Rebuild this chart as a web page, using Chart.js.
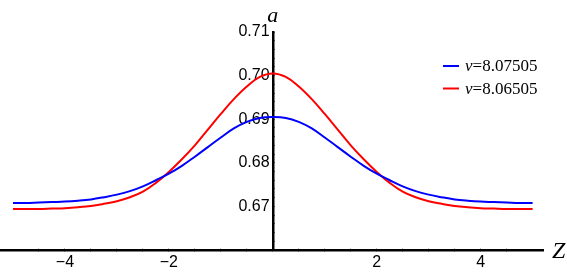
<!DOCTYPE html>
<html>
<head>
<meta charset="utf-8">
<script src="https://cdn.jsdelivr.net/npm/chart.js@4.4.0/dist/chart.umd.min.js"></script>
<style>
  body { margin: 0; background: #fff; }
</style>
</head>
<body>
<canvas id="myChart" width="567" height="274"></canvas>
<script>
// values
const zValues = [-5, -4.75, -4.5, -4.25, -4, -3.75, -3.5, -3.25, -3, -2.75, -2.5, -2.25, -2, -1.75, -1.5, -1.25, -1, -0.75, -0.5, -0.25, 0,
                 0.25, 0.5, 0.75, 1, 1.25, 1.5, 1.75, 2, 2.25, 2.5, 2.75, 3, 3.25, 3.5, 3.75, 4, 4.25, 4.5, 4.75, 5];
const blueValues = [0.6708, 0.6708, 0.6709, 0.6710, 0.6711, 0.6713, 0.6716, 0.6721, 0.6727, 0.6735, 0.6746, 0.6760, 0.6775, 0.6793, 0.6814, 0.6836, 0.6858, 0.6879, 0.6894, 0.6903, 0.6905,
                    0.6903, 0.6894, 0.6879, 0.6858, 0.6836, 0.6814, 0.6793, 0.6775, 0.6760, 0.6746, 0.6735, 0.6727, 0.6721, 0.6716, 0.6713, 0.6711, 0.6710, 0.6709, 0.6708, 0.6708];
const redValues = [0.6694, 0.6694, 0.6694, 0.6695, 0.6696, 0.6698, 0.6701, 0.6706, 0.6712, 0.6721, 0.6734, 0.6754, 0.6779, 0.6808, 0.6840, 0.6876, 0.6912, 0.6946, 0.6975, 0.6997, 0.7005,
                   0.6997, 0.6975, 0.6946, 0.6912, 0.6876, 0.6840, 0.6808, 0.6779, 0.6754, 0.6734, 0.6721, 0.6712, 0.6706, 0.6701, 0.6698, 0.6696, 0.6695, 0.6694, 0.6694, 0.6694];
const seriesLabels = ['ν=8.07505', 'ν=8.06505'];
const seriesColors = ['rgb(0, 0, 255)', 'rgb(255, 0, 0)'];

function toPoints(ys) {
    return zValues.map((z, i) => ({ x: z, y: ys[i] }));
}

// axis names and the little legend in the corner
const extrasPlugin = {
    id: 'extras',
    afterDraw(chart) {
        const ctx = chart.ctx;
        const xs = chart.scales.x, ys = chart.scales.y;
        ctx.save();
        ctx.fillStyle = '#000';
        ctx.textBaseline = 'alphabetic';
        ctx.textAlign = 'center';
        ctx.font = 'italic 22px "Liberation Serif"';
        ctx.fillText('a', xs.getPixelForValue(0), ys.top - 10);
        ctx.textAlign = 'left';
        ctx.font = 'italic 24px "Liberation Serif"';
        ctx.fillText('Z', xs.right + 9, ys.bottom + 8);

        chart.data.datasets.forEach((ds, i) => {
            const y = 66 + i * 22.5;
            ctx.strokeStyle = ds.borderColor;
            ctx.lineWidth = 2;
            ctx.beginPath();
            ctx.moveTo(443, y);
            ctx.lineTo(459, y);
            ctx.stroke();
            ctx.textBaseline = 'middle';
            ctx.font = 'italic 17px "Liberation Serif"';
            ctx.fillText(ds.label[0], 465, y + 1);
            const w = ctx.measureText(ds.label[0]).width;
            ctx.font = '17px "Liberation Serif"';
            ctx.fillText(ds.label.slice(1), 465 + w, y + 1);
        });
        ctx.restore();
    }
};

const ctx = document.getElementById('myChart').getContext('2d');
const myChart = new Chart(ctx, {
    type: 'line',
    data: {
        datasets: [0, 1].map(i => ({
            label: seriesLabels[i],
            data: toPoints(i === 0 ? blueValues : redValues),
            borderColor: seriesColors[i],
            borderWidth: 2,
            pointRadius: 0,
            fill: false,
            tension: 0.4
        }))
    },
    options: {
        responsive: false,
        animation: false,
        layout: { padding: { left: 0, right: 24, top: 32, bottom: 24 } },
        plugins: {
            legend: { display: false },
            tooltip: { enabled: false }
        },
        scales: {
            x: {
                type: 'linear',
                min: -5.25,
                max: 5.2,
                position: { y: 0.66 },
                afterBuildTicks: (scale) => {
                    scale.ticks = scale.ticks.filter(t => Math.abs(t.value * 2 - Math.round(t.value * 2)) < 1e-9);
                },
                grid: { drawOnChartArea: false, drawTicks: true, tickLength: -3, tickColor: '#777', tickWidth: 1 },
                border: { display: true, color: '#000', width: 2.5 },
                ticks: {
                    stepSize: 0.5,
                    autoSkip: false,
                    maxRotation: 0,
                    padding: 6,
                    color: '#000',
                    font: { family: '"Liberation Sans"', size: 16 },
                    callback: (v) => {
                        if (v === 0 || Math.abs(v % 2) > 1e-9) return '';
                        return v < 0 ? '\u2212' + Math.abs(v) : String(v);
                    }
                }
            },
            y: {
                type: 'linear',
                min: 0.66,
                max: 0.71,
                position: { x: 0 },
                grid: { drawOnChartArea: false, drawTicks: true, tickLength: -3, tickColor: '#777', tickWidth: 1 },
                border: { display: true, color: '#000', width: 2.5 },
                ticks: {
                    stepSize: 0.002,
                    autoSkip: false,
                    padding: 2,
                    color: '#000',
                    font: { family: '"Liberation Sans"', size: 16 },
                    callback: (v) => {
                        const k = Math.round(v * 1000);
                        return (k % 10 === 0 && k !== 660) ? v.toFixed(2) + '\u2009' : '';
                    }
                }
            }
        }
    },
    plugins: [extrasPlugin]
});
</script>
</body>
</html>
